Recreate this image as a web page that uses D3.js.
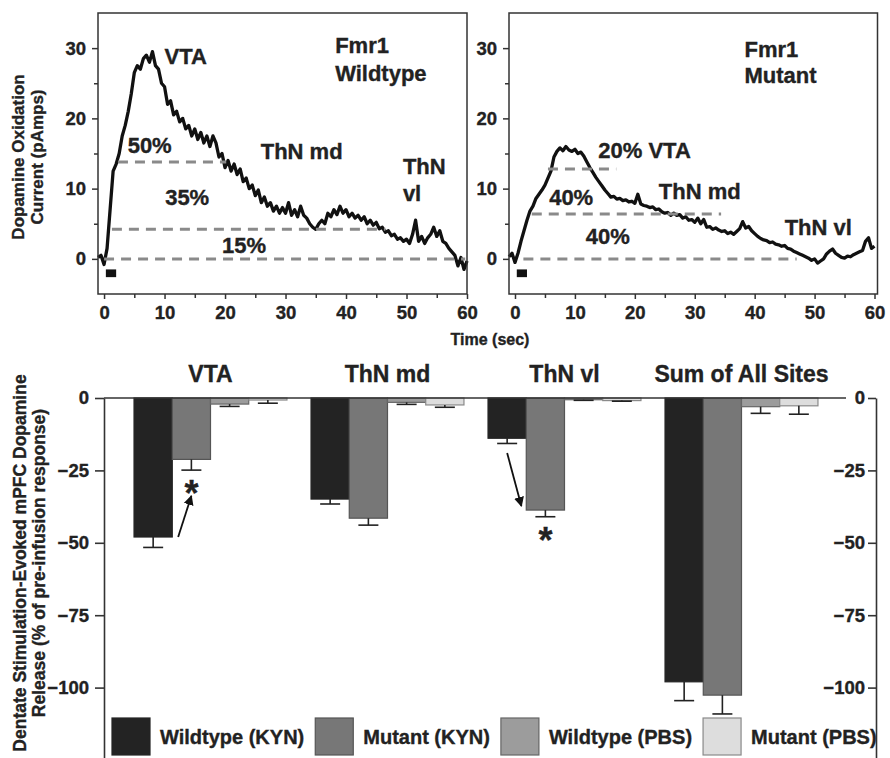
<!DOCTYPE html>
<html>
<head>
<meta charset="utf-8">
<script src="https://cdn.jsdelivr.net/npm/d3@7"></script>
<style>
  body { margin: 0; background: #fff; }
  svg text { font-family: "Liberation Sans", Arial, sans-serif; font-weight: bold; fill: #222; stroke: #222; stroke-width: 0.35px; }
</style>
</head>
<body>
<div id="chart"></div>
<script>
// ---- top panels: dopamine oxidation current traces (pA), sampled every 0.5 s from -1 to 60 s
const traceTimes = d3.range(-1, 60.01, 0.5);

const wildtypeTrace = [
  0.2, 0.5, -0.8, 1.5, 7, 12.5, 13.5, 15, 17.5, 19, 21, 23.5, 26.5, 27.5, 27, 28.5, 29, 28, 29.5, 27.5,
  27, 25, 24.5, 22, 22.5, 20.5, 21, 19.5, 20, 18.5, 19, 17.5, 18.5, 17, 18, 16.5, 17.5, 16, 17.5, 16.5,
  14.5, 15, 13, 14, 12.5, 13.5, 12, 12.8, 11, 11.5, 10, 10.5, 9, 9.8, 8, 8.8, 7.5, 8, 6.8, 7.5,
  6.5, 7.3, 6.5, 8, 6.2, 7, 6, 7.5, 6.2, 5.8, 5, 4.5, 4.2, 5, 5.5, 5, 6.5, 6, 7, 6.3,
  7.5, 6.5, 7, 6, 6.5, 5.8, 6.2, 5.5, 6, 5, 5.5, 4.8, 5.2, 4.3, 4.5, 3.8, 4, 3.3, 3.5, 2.8,
  3, 2.5, 2.8, 2.2, 3.5, 5.5, 2.5, 3.2, 2.2, 3, 3.5, 4.5, 3.2, 4, 2.5, 2.2, 1.5, 1, 0.5, -1,
  0.2, -1.5, -0.3
];

const mutantTrace = [
  0.3, 0.8, -0.5, 0.8, 2.5, 4, 5.5, 6.8, 7.5, 8.6, 9.2, 9.8, 10.5, 11.5, 12.5, 14.5, 15.3, 15.8, 15.4, 16,
  15.5, 15.3, 15.6, 15, 15.2, 14.6, 13.8, 13, 12.3, 11.6, 11, 10.4, 9.8, 9.3, 8.8, 8.9, 8.5, 8.6, 8.3, 8.4,
  8.1, 8.2, 7.9, 9.2, 7.8, 7.6, 7.5, 7.3, 7.4, 7, 7.1, 6.7, 6.5, 6.6, 6.2, 6.5, 6.2, 6.3, 5.8, 6,
  5.5, 5.6, 5.2, 5.8, 5, 5.6, 4.5, 4.6, 4.2, 4.4, 4.1, 3.9, 4, 3.6, 3.8, 3.5, 3.9, 4.3, 5.3, 4.4,
  4.6, 4, 3.6, 3.2, 2.9, 2.7, 2.6, 2.3, 2.4, 2.1, 2, 1.8, 1.9, 1.5, 1.4, 1.1, 0.9, 0.7, 0.5, 0.3,
  0.1, -0.2, 0, -0.6, -0.3, 0, 0.7, 1.1, 1.4, 0.8, 0.5, 0.2, 0.1, 0.4, 0.3, 0.6, 0.8, 1, 1.2, 2.5,
  3, 1.5, 1.8
];

// dashed partition levels: [level (pA), start (s), end (s)]
const wildtypeLevels = [[13.8, 2.3, 20.2], [4.2, 1.3, 46.5], [0, 0, 59.7]];
const mutantLevels = [[12.8, 5.5, 16.9], [6.4, 2.8, 34.4], [0, 1.4, 47]];

// in-panel labels: [text, time (s), current (pA)]
const wildtypeLabels = [
  ["Fmr1", 38.2, 29.3], ["Wildtype", 38.2, 25.3], ["VTA", 10, 27.8], ["50%", 3.9, 15.1],
  ["35%", 10.1, 7.6], ["15%", 19.5, 0.8], ["ThN md", 25.9, 14.2], ["ThN", 49.4, 12.1], ["vl", 49.4, 8.3]
];
const mutantLabels = [
  ["Fmr1", 38.3, 28.7], ["Mutant", 38.3, 25.0], ["20% VTA", 13.9, 14.3], ["40%", 5.7, 7.7],
  ["ThN md", 24, 8.5], ["40%", 11.8, 2.1], ["ThN vl", 45, 3.4]
];

const stimulus = [0.3, 2.0]; // stimulation bar (s)

// ---- bottom: % change of evoked release
const sites = ["VTA", "ThN md", "ThN vl", "Sum of All Sites"];
const groups = ["Wildtype (KYN)", "Mutant (KYN)", "Wildtype (PBS)", "Mutant (PBS)"];
const wtKyn = [-48, -34.9, -13.9, -98];
const wtKynErr = [3.6, 1.7, 1.8, 6.5];
const mutKyn = [-21.2, -41.5, -38.7, -102.6];
const mutKynErr = [3.7, 2.4, 2.3, 6.5];
const wtPbs = [-2.1, -1.5, -0.6, -3.0];
const wtPbsErr = [0.8, 0.7, 0.2, 2.3];
const mutPbs = [-0.7, -2.4, -0.9, -2.7];
const mutPbsErr = [1.1, 0.8, 0.2, 2.9];
const barTicks = [0, -25, -50, -75, -100];

const groupFill = ["#232323", "#777777", "#9c9c9c", "#dddddd"];
const groupStroke = ["#232323", "#555555", "#666666", "#8a8a8a"];

const svg = d3.select("#chart").append("svg").attr("width", 890).attr("height", 758);
svg.append("rect").attr("width", 890).attr("height", 758).attr("fill", "#fff");

svg.append("defs").append("marker")
  .attr("id", "arrow").attr("viewBox", "0 0 10 10").attr("refX", 9).attr("refY", 5)
  .attr("markerWidth", 10).attr("markerHeight", 10).attr("markerUnits", "userSpaceOnUse")
  .attr("orient", "auto")
  .append("path").attr("d", "M0,0L10,5L0,10z").attr("fill", "#111");

// ---------- top panels ----------
const yTrace = d3.scaleLinear().domain([-5, 35]).range([294, 13]);

function drawPanel(values, levels, labels, xDomain, xRange) {
  const x = d3.scaleLinear().domain(xDomain).range(xRange);
  const g = svg.append("g");

  const line = d3.line().x((d, i) => x(traceTimes[i])).y(d => yTrace(d));
  g.append("path").datum(values)
    .attr("d", line).attr("fill", "none")
    .attr("stroke", "#111").attr("stroke-width", 3.3).attr("stroke-linejoin", "round");

  g.selectAll("line.level").data(levels).join("line")
    .attr("class", "level")
    .attr("x1", d => x(d[1])).attr("x2", d => x(d[2]))
    .attr("y1", d => yTrace(d[0])).attr("y2", d => yTrace(d[0]))
    .attr("stroke", "#8a8a8a").attr("stroke-width", 3).attr("stroke-dasharray", "10,7");

  g.append("rect")
    .attr("x", x(stimulus[0])).attr("width", x(stimulus[1]) - x(stimulus[0]))
    .attr("y", yTrace(-1.5)).attr("height", yTrace(-2.6) - yTrace(-1.5))
    .attr("fill", "#111");

  g.selectAll("text.lab").data(labels).join("text")
    .attr("class", "lab")
    .attr("x", d => x(d[1])).attr("y", d => yTrace(d[2]))
    .attr("font-size", 22)
    .text(d => d[0]);

  // frame
  g.append("rect")
    .attr("x", xRange[0]).attr("y", yTrace(35))
    .attr("width", xRange[1] - xRange[0]).attr("height", yTrace(-5) - yTrace(35))
    .attr("fill", "none").attr("stroke", "#333").attr("stroke-width", 1.5);

  const xa = g.append("g").attr("transform", `translate(0,${yTrace(-5)})`)
    .call(d3.axisBottom(x).tickValues(d3.range(0, 61, 10)).tickSize(5).tickPadding(7));
  const xm = g.append("g").attr("transform", `translate(0,${yTrace(-5)})`)
    .call(d3.axisBottom(x).tickValues(d3.range(5, 60, 10)).tickSize(4).tickFormat(""));
  const ya = g.append("g").attr("transform", `translate(${xRange[0]},0)`)
    .call(d3.axisLeft(yTrace).tickValues([0, 10, 20, 30]).tickSize(6).tickPadding(6));
  const ym = g.append("g").attr("transform", `translate(${xRange[0]},0)`)
    .call(d3.axisLeft(yTrace).tickValues([5, 15, 25]).tickSize(4).tickFormat(""));
  [xa, xm, ya, ym].forEach(a => {
    a.select(".domain").remove();
    a.selectAll(".tick line").attr("stroke", "#333").attr("stroke-width", 1.5);
    a.selectAll(".tick text").attr("font-size", 18.5).attr("fill", "#222");
  });
}

drawPanel(wildtypeTrace, wildtypeLevels, wildtypeLabels, [-1, 60], [98, 467]);
drawPanel(mutantTrace, mutantLevels, mutantLabels, [-1, 60.5], [509, 877.5]);

svg.append("text").attr("x", 490).attr("y", 345).attr("text-anchor", "middle")
  .attr("font-size", 16).text("Time (sec)");

const topTitle = svg.append("text").attr("transform", "translate(0,157) rotate(-90)")
  .attr("text-anchor", "middle").attr("font-size", 17);
topTitle.append("tspan").attr("x", 0).attr("y", 24).text("Dopamine Oxidation");
topTitle.append("tspan").attr("x", 0).attr("y", 43).text("Current (pAmps)");

// ---------- bottom bar chart ----------
const siteX = d3.scaleBand().domain(sites).range([122, 830]).paddingInner(0.136).paddingOuter(0.068);
const groupX = d3.scaleBand().domain(groups).range([0, siteX.bandwidth()]);
const yBar = d3.scaleLinear().domain([-125, 0]).range([760, 398]);

const seriesVals = [wtKyn, mutKyn, wtPbs, mutPbs];
const seriesErr = [wtKynErr, mutKynErr, wtPbsErr, mutPbsErr];
const barData = [];
sites.forEach((s, i) => groups.forEach((gname, j) => {
  barData.push({ site: s, group: gname, gi: j, value: seriesVals[j][i], err: seriesErr[j][i] });
}));
const barCx = d => siteX(d.site) + groupX(d.group) + groupX.bandwidth() / 2;

const bars = svg.append("g");
bars.selectAll("rect").data(barData).join("rect")
  .attr("x", d => siteX(d.site) + groupX(d.group))
  .attr("width", groupX.bandwidth())
  .attr("y", yBar(0))
  .attr("height", d => yBar(d.value) - yBar(0))
  .attr("fill", d => groupFill[d.gi])
  .attr("stroke", d => groupStroke[d.gi]).attr("stroke-width", 1.2);

const errs = svg.append("g").attr("stroke", "#222").attr("stroke-width", 1.6);
errs.selectAll("line.v").data(barData).join("line").attr("class", "v")
  .attr("x1", barCx).attr("x2", barCx)
  .attr("y1", d => yBar(d.value)).attr("y2", d => yBar(d.value - d.err));
errs.selectAll("line.c").data(barData).join("line").attr("class", "c")
  .attr("x1", d => barCx(d) - 10).attr("x2", d => barCx(d) + 10)
  .attr("y1", d => yBar(d.value - d.err)).attr("y2", d => yBar(d.value - d.err));

// zero line
svg.append("line").attr("x1", 104).attr("x2", 846).attr("y1", yBar(0)).attr("y2", yBar(0))
  .attr("stroke", "#333").attr("stroke-width", 1.6);

const la = svg.append("g").attr("transform", "translate(104,0)")
  .call(d3.axisLeft(yBar).tickValues(barTicks).tickSize(9).tickPadding(6).tickSizeOuter(0));
const ra = svg.append("g").attr("transform", "translate(876,0)")
  .call(d3.axisLeft(yBar).tickValues(barTicks).tickSize(8).tickPadding(3).tickSizeOuter(0));
[la, ra].forEach(a => {
  a.select(".domain").attr("stroke", "#333").attr("stroke-width", 1.6);
  a.selectAll(".tick line").attr("stroke", "#333").attr("stroke-width", 1.6);
  a.selectAll(".tick text").attr("font-size", 18.5).attr("fill", "#222");
});

svg.append("g").selectAll("text").data(sites).join("text")
  .attr("x", d => siteX(d) + siteX.bandwidth() / 2).attr("y", 382)
  .attr("text-anchor", "middle").attr("font-size", 23).text(d => d);

// significance stars under Mutant (KYN)
const starSites = ["VTA", "ThN vl"];
svg.append("g").selectAll("text").data(barData.filter(d => d.group === "Mutant (KYN)" && starSites.includes(d.site)))
  .join("text")
  .attr("x", barCx).attr("y", d => yBar(d.value - d.err) + 36)
  .attr("text-anchor", "middle").attr("font-size", 36).text("*");

// arrows: [site, from group, from dx, from value, to group, to dx, to value]
const arrows = [
  ["VTA", "Wildtype (KYN)", 25, -48, "Mutant (KYN)", 0, -33.8],
  ["ThN vl", "Wildtype (KYN)", 0, -19, "Mutant (KYN)", -24, -37.3]
];
const gc = (s, g) => siteX(s) + groupX(g) + groupX.bandwidth() / 2;
svg.append("g").selectAll("line").data(arrows).join("line")
  .attr("x1", d => gc(d[0], d[1]) + d[2]).attr("y1", d => yBar(d[3]))
  .attr("x2", d => gc(d[0], d[4]) + d[5]).attr("y2", d => yBar(d[6]))
  .attr("stroke", "#111").attr("stroke-width", 1.8).attr("marker-end", "url(#arrow)");

const bottomTitle = svg.append("text").attr("transform", "translate(0,563) rotate(-90)")
  .attr("text-anchor", "middle").attr("font-size", 17.5);
bottomTitle.append("tspan").attr("x", 0).attr("y", 26).text("Dentate Stimulation-Evoked mPFC Dopamine");
bottomTitle.append("tspan").attr("x", 0).attr("y", 45).text("Release (% of pre-infusion response)");

// legend
const legend = svg.append("g");
let lx = 112;
groups.forEach((gname, j) => {
  legend.append("rect").attr("x", lx).attr("y", 718).attr("width", 38).attr("height", 37)
    .attr("fill", groupFill[j]).attr("stroke", groupStroke[j]).attr("stroke-width", 1.2);
  const t = legend.append("text").attr("x", lx + 48).attr("y", 744).attr("font-size", 20).text(gname);
  lx += 48 + t.node().getComputedTextLength() + 11;
});
</script>
</body>
</html>
